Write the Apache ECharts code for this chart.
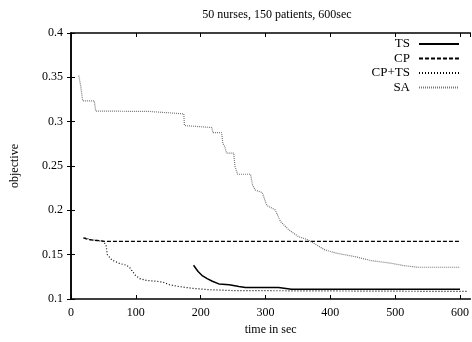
<!DOCTYPE html>
<html>
<head>
<meta charset="utf-8">
<script src="https://cdn.jsdelivr.net/npm/echarts@6.0.0/dist/echarts.min.js"></script>
<style>
  html, body { margin: 0; padding: 0; background: #fff; }
  #chart { width: 472px; height: 342px; }
</style>
</head>
<body>
<div id="chart"></div>
<script>
const titleText = "50 nurses, 150 patients, 600sec";
const seriesNames = ["TS", "CP", "CP+TS", "SA"];

const tsTime = [189, 196, 203, 210, 218, 228, 244, 259, 269, 320, 340, 400, 600];
const tsObj = [0.138, 0.131, 0.126, 0.123, 0.120, 0.117, 0.116, 0.114, 0.113, 0.113, 0.111, 0.111, 0.111];

const cpTime = [19, 27, 40, 52, 600];
const cpObj = [0.169, 0.167, 0.166, 0.165, 0.165];

const cptsTime = [21, 30, 50, 54, 56, 63, 75, 86, 91, 99, 106, 116, 132, 142, 152, 167, 188, 213, 250, 612];
const cptsObj = [0.169, 0.167, 0.165, 0.161, 0.150, 0.144, 0.140, 0.138, 0.135, 0.127, 0.123, 0.121, 0.120, 0.119, 0.116, 0.114, 0.112, 0.1105, 0.1095, 0.1085];

const saTime = [12, 15, 18, 36, 38, 121, 122, 174, 175, 217, 219, 232, 233, 234, 237, 240, 251, 253, 257, 277, 280, 284, 295, 302, 315, 323, 336, 351, 366, 376, 392, 410, 438, 463, 494, 514, 535, 600];
const saObj = [0.352, 0.340, 0.3235, 0.3235, 0.312, 0.3115, 0.3096, 0.3088, 0.2956, 0.2934, 0.2877, 0.2877, 0.284, 0.2757, 0.272, 0.2645, 0.2645, 0.2494, 0.2407, 0.2407, 0.2287, 0.223, 0.220, 0.2055, 0.2005, 0.1875, 0.178, 0.1703, 0.1666, 0.1621, 0.1553, 0.1516, 0.1478, 0.1433, 0.1403, 0.1376, 0.1358, 0.1358];

const pairs = (xs, ys) => xs.map((x, i) => [x, ys[i]]);

const font = "Liberation Serif";
const ink = "#000";

const chart = echarts.init(document.getElementById("chart"), null, { renderer: "canvas" });

const boxAxis = {
  axisLine: { show: true, lineStyle: { color: ink, width: 1.5 } },
  axisTick: { show: true, inside: true, length: 4, lineStyle: { color: ink, width: 1 } },
  splitLine: { show: false },
};

chart.setOption({
  animation: false,
  backgroundColor: "#fff",
  textStyle: { fontFamily: font, color: ink },
  title: {
    text: titleText,
    left: 272,
    textAlign: "center",
    top: 4,
    textStyle: { fontFamily: font, fontSize: 12, fontWeight: "normal", color: ink },
  },
  legend: {
    orient: "vertical",
    right: 12,
    top: 37,
    padding: 0,
    align: "right",
    itemWidth: 40,
    itemHeight: 10,
    itemGap: 0.5,
    data: seriesNames,
    itemStyle: { opacity: 0, borderWidth: 0 },
    textStyle: { fontFamily: font, fontSize: 13, color: ink, lineHeight: 14, padding: [0, 4, 0, 0] },
  },
  grid: { left: 71, right: -2, top: 33, bottom: 43 },
  xAxis: [
    {
      ...boxAxis,
      type: "value",
      position: "bottom",
      min: 0,
      max: 616,
      interval: 100,
      name: "time in sec",
      nameLocation: "middle",
      nameGap: 25,
      nameTextStyle: { fontFamily: font, fontSize: 12, color: ink },
      axisLabel: {
        fontFamily: font, fontSize: 12, color: ink, margin: 8,
        showMaxLabel: false,
        formatter: (v) => (v % 100 === 0 ? String(v) : ""),
      },
    },
    {
      ...boxAxis,
      type: "value",
      position: "top",
      min: 0,
      max: 616,
      interval: 100,
      axisLabel: { show: false },
    },
  ],
  yAxis: [
    {
      ...boxAxis,
      type: "value",
      position: "left",
      min: 0.1,
      max: 0.4,
      interval: 0.05,
      name: "objective",
      nameLocation: "middle",
      nameGap: 50,
      nameTextStyle: { fontFamily: font, fontSize: 12, color: ink },
      axisLabel: { fontFamily: font, fontSize: 12, color: ink, margin: 8 },
    },
    {
      ...boxAxis,
      type: "value",
      position: "right",
      min: 0.1,
      max: 0.4,
      interval: 0.05,
      axisLabel: { show: false },
    },
  ],
  series: [
    {
      name: "TS",
      type: "line",
      data: pairs(tsTime, tsObj),
      symbol: "none",
      lineStyle: { color: ink, width: 1.5, type: "solid" },
      itemStyle: { color: ink },
    },
    {
      name: "CP",
      type: "line",
      data: pairs(cpTime, cpObj),
      symbol: "none",
      lineStyle: { color: ink, width: 1.3, type: [4, 2] },
      itemStyle: { color: ink },
    },
    {
      name: "CP+TS",
      type: "line",
      data: pairs(cptsTime, cptsObj),
      symbol: "none",
      lineStyle: { color: ink, width: 1.2, type: [1, 2] },
      itemStyle: { color: ink },
    },
    {
      name: "SA",
      type: "line",
      data: pairs(saTime, saObj),
      symbol: "none",
      lineStyle: { color: "#777", width: 1.2, type: [1, 1] },
      itemStyle: { color: "#777" },
    },
  ],
});
</script>
</body>
</html>
